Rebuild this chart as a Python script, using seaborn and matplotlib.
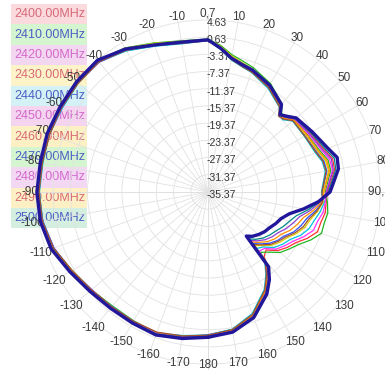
import numpy as np
import pandas as pd
import matplotlib
matplotlib.use("Agg")
import matplotlib.pyplot as plt
import seaborn as sns
from matplotlib.patches import Rectangle

# ---------------- data ----------------
angles_deg = [-180, -170, -160, -150, -140, -130, -120, -110, -100, -90,
              -80, -70, -60, -50, -40, -30, -20, -10, 0,
              5, 10, 15, 20, 30, 40, 43, 46, 50, 60, 70, 75, 80, 90, 95,
              100, 105, 110, 115, 120, 125, 130, 135, 139, 141, 145, 150,
              160, 170, 180]

freq_labels = ["2400.00MHz", "2410.00MHz", "2420.00MHz", "2430.00MHz",
               "2440.00MHz", "2450.00MHz", "2460.00MHz", "2470.00MHz",
               "2480.00MHz", "2490.00MHz", "2500.00MHz"]

gain_2400 = [-2.0, -1.3, -0.6, -0.5, -0.6, 0.1, 1.4, 3.0, 3.9, 4.2, 3.9, 4.0, 4.0, 4.1, 4.1, 2.8, 1.2, 0.1, 0.0,
             -1.5, -3.4, -4.5, -5.3, -6.9, -9.0, -10.5, -10.2, -8.9, -8.0, -6.6, -5.4, -5.5, -7.6, -7.8,
             -7.7, -8.2, -8.3, -9.9, -11.8, -12.9, -14.2, -16.3, -15.5, -13.5, -11.2, -8.6, -4.9, -2.7, -2.0]
gain_2410 = [-1.9, -1.0, -0.4, -0.8, -0.8, 0.0, 1.1, 2.9, 3.8, 4.0, 3.7, 4.1, 4.1, 4.2, 4.4, 3.3, 1.5, 0.3, 0.2,
             -1.2, -3.0, -3.9, -4.6, -6.3, -8.6, -10.3, -10.4, -9.3, -8.7, -7.6, -6.5, -6.4, -8.1, -7.5,
             -7.1, -7.4, -7.3, -9.0, -11.0, -12.3, -13.5, -15.6, -16.8, -12.6, -10.9, -8.4, -4.8, -2.6, -1.9]
gain_2420 = [-2.2, -1.2, -0.3, -0.7, -0.4, -0.1, 1.2, 2.7, 3.6, 3.9, 3.8, 3.8, 3.8, 4.1, 4.0, 2.6, 0.8, -0.2, -0.1,
             -2.0, -4.0, -5.0, -5.6, -7.2, -9.4, -11.2, -10.9, -9.6, -9.3, -8.4, -7.5, -7.3, -8.8, -8.7,
             -10.0, -11.6, -12.4, -13.4, -14.9, -15.7, -16.8, -18.3, -19.5, -14.0, -11.5, -8.9, -5.0, -2.9, -2.2]
gain_2430 = [-2.1, -1.5, -0.5, -0.6, -0.7, 0.2, 1.3, 2.9, 3.7, 3.8, 3.6, 3.9, 3.7, 4.0, 4.2, 2.5, 0.7, -0.4, -0.2,
             -2.1, -4.2, -5.2, -5.8, -7.5, -9.6, -11.0, -11.2, -9.7, -9.5, -8.8, -7.9, -7.7, -9.0, -8.2,
             -8.9, -9.8, -10.4, -11.6, -13.3, -14.2, -15.3, -17.3, -18.0, -14.4, -11.9, -9.2, -5.3, -3.0, -2.1]
gain_2440 = [-1.8, -1.1, -0.5, -0.6, -0.5, 0.0, 1.4, 3.1, 3.8, 4.1, 4.0, 4.1, 3.9, 4.3, 4.3, 2.9, 1.1, 0.0, -0.1,
             -1.7, -3.6, -4.6, -5.3, -6.9, -9.1, -10.6, -10.6, -9.1, -8.4, -7.2, -6.1, -6.0, -7.9, -8.0,
             -8.2, -9.0, -9.3, -10.8, -12.5, -13.6, -14.7, -16.8, -17.2, -13.8, -11.0, -8.5, -4.7, -2.6, -1.8]
gain_2450 = [-1.9, -1.3, -0.4, -0.4, -0.4, 0.1, 1.2, 3.0, 3.9, 4.0, 3.8, 4.2, 4.0, 4.2, 4.5, 3.2, 1.4, 0.2, 0.1,
             -1.4, -3.3, -4.3, -5.0, -6.6, -8.9, -10.4, -10.7, -9.4, -9.0, -8.1, -7.1, -6.9, -8.6, -8.5,
             -9.5, -10.7, -11.4, -12.6, -14.1, -15.0, -16.1, -17.8, -18.8, -13.2, -11.1, -8.7, -4.9, -2.8, -1.9]
gain_2460 = [-2.0, -1.1, -0.2, -0.5, -0.3, 0.2, 1.3, 3.1, 4.0, 4.1, 3.9, 4.0, 4.1, 4.1, 4.3, 2.7, 0.9, -0.1, 0.0,
             -1.9, -3.9, -4.9, -5.5, -7.0, -9.2, -10.9, -10.8, -9.3, -8.8, -7.9, -6.8, -6.7, -8.4, -8.9,
             -10.5, -12.4, -13.3, -14.3, -15.7, -16.4, -17.4, -18.8, -20.0, -13.6, -11.3, -8.8, -4.8, -2.7, -2.0]
gain_2470 = [-1.9, -1.2, -0.3, -0.5, -0.5, 0.3, 1.5, 3.2, 3.9, 4.2, 4.0, 4.2, 4.0, 4.2, 4.4, 2.8, 1.0, 0.0, 0.0,
             -1.8, -3.8, -4.8, -5.4, -6.9, -9.0, -10.9, -10.4, -9.0, -8.2, -6.9, -5.7, -5.8, -7.8, -9.2,
             -11.1, -13.3, -14.3, -15.3, -16.5, -17.2, -18.1, -19.3, -20.5, -13.3, -10.9, -8.4, -4.6, -2.5, -1.9]
gain_2480 = [-1.8, -1.0, -0.2, -0.4, -0.3, 0.3, 1.5, 3.2, 4.1, 4.2, 4.1, 4.2, 4.2, 4.3, 4.4, 2.9, 1.0, 0.0, 0.0,
             -1.8, -3.8, -4.7, -5.3, -6.8, -8.9, -10.8, -10.2, -8.8, -7.8, -6.3, -5.0, -5.2, -7.4, -9.3,
             -11.7, -14.1, -15.3, -16.2, -17.2, -17.9, -18.7, -19.8, -21.0, -13.1, -10.7, -8.2, -4.5, -2.4, -1.8]
gain_2490 = [-2.1, -1.4, -0.7, -0.7, -0.6, 0.0, 1.1, 2.8, 3.7, 3.9, 3.7, 3.8, 3.9, 4.0, 4.1, 2.7, 0.9, -0.3, -0.2,
             -2.0, -4.1, -5.1, -5.7, -7.3, -9.5, -11.3, -11.0, -9.6, -9.4, -8.6, -7.7, -7.5, -8.9, -8.6,
             -9.7, -11.1, -11.8, -13.0, -14.5, -15.4, -16.4, -18.0, -19.2, -14.2, -11.7, -9.0, -5.1, -2.9, -2.1]
gain_2500 = [-1.6, -0.8, 0.0, -0.2, -0.1, 0.5, 1.7, 3.4, 4.2, 4.4, 4.2, 4.4, 4.3, 4.5, 4.6, 3.0, 1.0, 0.0, 0.0,
             -1.8, -3.8, -4.7, -5.2, -6.7, -8.8, -10.8, -10.0, -8.6, -7.4, -5.7, -4.3, -4.6, -7.0, -9.6,
             -12.8, -15.8, -17.3, -18.0, -18.8, -19.3, -20.0, -20.8, -21.8, -13.0, -10.5, -8.0, -4.3, -2.3, -1.6]

ring_values = [4.63, 0.63, -3.37, -7.37, -11.37, -15.37, -19.37, -23.37,
               -27.37, -31.37, -35.37]
theta_tick_deg = list(range(-170, 190, 10))

# ---------------- styling ----------------
line_colors = ["#ff3030", "#22b822", "#3050ff", "#00c0e0", "#ff30ff",
               "#e0d000", "#ff9000", "#9040d0", "#008888", "#a0522d", "#22179a"]
legend_text_colors = ["#d86a78", "#4c5fc4", "#d468cc"] * 4
legend_bg_colors = ["#fadadd", "#d4f5d0", "#f3d6f0", "#fdf3c8", "#d4f1f5",
                    "#f4d4ef", "#fdf0c4", "#d4f5d0", "#f2d8f3", "#fdf0c4", "#d4efe0"]

sns.set_style("white")
plt.rcParams["font.family"] = ["Liberation Sans", "DejaVu Sans"]

series = [gain_2400, gain_2410, gain_2420, gain_2430, gain_2440, gain_2450,
          gain_2460, gain_2470, gain_2480, gain_2490, gain_2500]
rows = []
for lab, vals in zip(freq_labels, series):
    assert len(vals) == len(angles_deg), lab
    for a, v in zip(angles_deg, vals):
        rows.append({"freq": lab, "angle": a, "gain": v})
df = pd.DataFrame(rows)
df["theta"] = np.deg2rad(df["angle"])

W, H = 385, 371
fig = plt.figure(figsize=(W / 100, H / 100), dpi=100)
fig.patch.set_facecolor("white")

# colour key list (drawn beneath the chart)
row_h = 20.4
for i, (lab, tc, bg) in enumerate(zip(freq_labels, legend_text_colors, legend_bg_colors)):
    y_top = 4 + i * row_h
    fig.patches.append(Rectangle((11 / W, 1 - (y_top + row_h) / H), 76 / W, row_h / H,
                                 transform=fig.transFigure, facecolor=bg,
                                 edgecolor="none", zorder=-2))
    fig.text(14 / W, 1 - (y_top + row_h / 2) / H, lab, color=tc, fontsize=9,
             ha="left", va="center", zorder=-1)

cx, cy, R = 208, 192, 178
ax = fig.add_axes([(cx - R) / W, (H - cy - R) / H, 2 * R / W, 2 * R / H],
                  projection="polar")
ax.set_zorder(5)
ax.set_facecolor("none")
ax.set_theta_zero_location("N")
ax.set_theta_direction(-1)

colored = df[df["freq"] != "2500.00MHz"]
navy = df[df["freq"] == "2500.00MHz"]
sns.lineplot(data=colored, x="theta", y="gain", hue="freq",
             palette=line_colors[:10], sort=False, estimator=None,
             legend=False, linewidth=0.9, ax=ax)
sns.lineplot(data=navy, x="theta", y="gain", color=line_colors[10],
             sort=False, estimator=None, legend=False, linewidth=2.4, ax=ax)

ax.set_ylim(-35.37, 6.0)
ax.set_yticks(ring_values[:-1])
ax.set_yticklabels([])
ax.set_xticks(np.deg2rad(np.arange(0, 360, 10)))
ax.set_xticklabels([])
ax.set_xlabel("")
ax.set_ylabel("")
ax.grid(True, color="#e2e2e2", linewidth=0.6)
ax.spines["polar"].set_visible(False)
ax.axvline(0, color="#cfcfcf", lw=0.7, zorder=0)
ax.axvline(np.pi, color="#cfcfcf", lw=0.7, zorder=0)
ax.axvline(np.pi / 2, color="#e0d8c0", lw=0.7, zorder=0)
ax.axvline(-np.pi / 2, color="#e0d8c0", lw=0.7, zorder=0)

# angle labels
for a in theta_tick_deg:
    if a == 0:
        s = "0,7"
    elif a == 90:
        s = "90, -90"
    else:
        s = str(a)
    rr = 4.9 if abs(a) >= 150 else 6.0
    ax.text(np.deg2rad(a), rr, s, ha="center", va="center", fontsize=8.5,
            color="#3a3a3a", clip_on=False, zorder=1)

# radial labels
for v in ring_values:
    ax.annotate(f"{v:.2f}", xy=(0, v), xytext=(-1, -2), textcoords="offset points",
                ha="left", va="center", fontsize=7.5, color="#333333",
                annotation_clip=False, zorder=1)

fig.savefig("out.png", dpi=100)
